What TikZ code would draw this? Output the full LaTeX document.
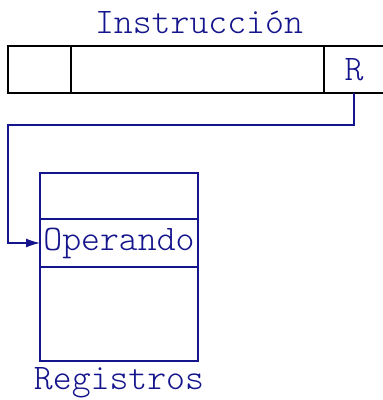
\documentclass[tikz,border=0pt]{standalone}
\usepackage{tikz}
\usetikzlibrary{arrows,arrows.meta,%
                shapes,positioning}
\definecolor{regblue}{RGB}{20,20,140}

\begin{document}
\begin{tikzpicture}[x=1pt,y=-1pt,
  font=\ttfamily\fontseries{l}\fontsize{36}{40}\selectfont,
  field/.style={draw=black,line width=1.3pt,minimum height=47pt,inner sep=0pt,outer sep=0pt},
  cell/.style={draw=regblue,line width=1.3pt,minimum width=158pt,inner sep=0pt,outer sep=0pt,text=regblue},
  label/.style={text=regblue,inner sep=0pt},
  link/.style={draw=regblue,line width=1.3pt,-{Latex[length=14pt,width=9pt]}}]
\useasboundingbox (0,0) rectangle (383,400);
% instruccion
\node[label] (title) at (199,22) {Instrucción};
\node[field,minimum width=63pt] (F1) at (39.5,69.5) {};
\node[field,minimum width=253pt] (F2) at (197.5,69.5) {};
\node[field,minimum width=60pt,text=regblue] (R) at (354,69.5) {R};
% registros
\node[cell,minimum height=46pt] (top) at (119,196) {};
\node[cell,minimum height=48pt] (opnd) at (119,243) {Operando};
\node[cell,minimum height=94pt] (bot) at (119,314) {};
\node[label] (regs) at (119,383) {Registros};
% direccion
\coordinate (bend) at (8,125);
\draw[link] (R.south) |- (bend) |- (opnd.west);
\end{tikzpicture}
\end{document}
